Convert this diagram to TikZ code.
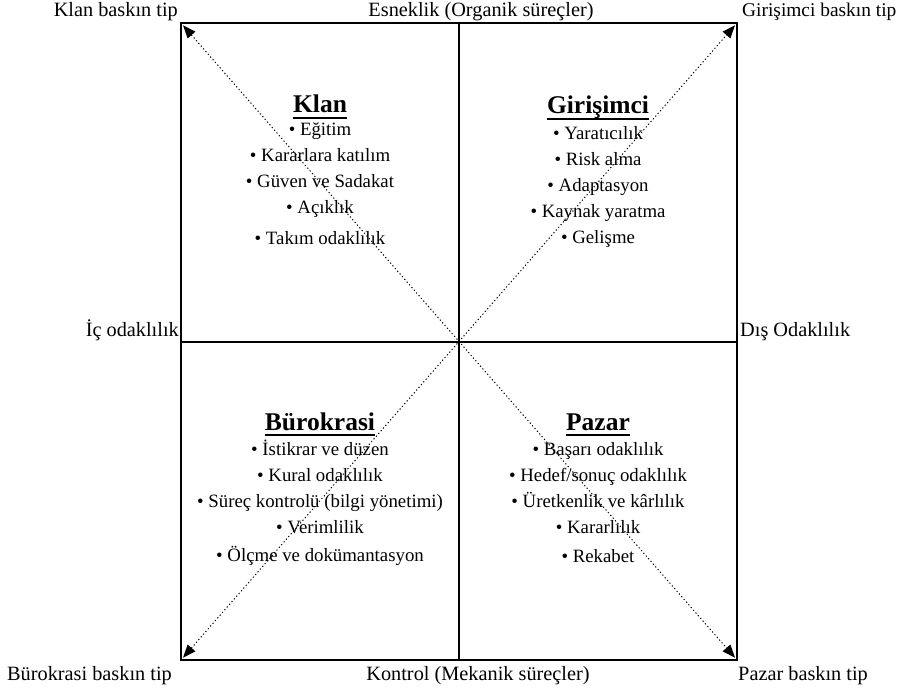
\documentclass[tikz,border=0pt]{standalone}
\usepackage{fontspec}
\setmainfont{Liberation Serif}
\usetikzlibrary{positioning, arrows.meta}

\begin{document}
\begin{tikzpicture}[x=1pt, y=1pt, node distance=2pt,
  frame/.style={line width=2.5pt},
  diag/.style={line width=1pt, dash pattern=on 1.2pt off 2.4pt,
    {Triangle[length=13pt,width=10pt]}-{Triangle[length=13pt,width=10pt]},
    shorten <=3pt, shorten >=3pt},
  lbl/.style={font=\fontsize{20.3}{23}\selectfont, inner sep=1pt},
  head/.style={font=\fontsize{25.5}{30}\selectfont\bfseries, inner sep=0pt, text depth=5pt},
  items/.style={font=\fontsize{18.8}{26}\selectfont, align=center, inner sep=0pt}]
  \useasboundingbox (0,0) rectangle (901,691);
  % frame corners and middles
  \coordinate (nw) at (181,668);
  \coordinate (ne) at (737,668);
  \coordinate (sw) at (181,31);
  \coordinate (se) at (737,31);
  \coordinate (n) at (459,668);
  \coordinate (s) at (459,31);
  \coordinate (w) at (181,349);
  \coordinate (e) at (737,349);

  \draw[frame] (nw) rectangle (se);
  \draw[frame] (n) -- (s);
  \draw[frame] (w) -- (e);
  \draw[diag] (nw) -- (se);
  \draw[diag] (sw) -- (ne);

  % axis labels
  \node[lbl, anchor=south] (flex) at ([xshift=22pt,yshift=1pt]n) {Esneklik (Organik süreçler)};
  \node[lbl, anchor=north] (ctrl) at ([xshift=19pt,yshift=-5pt]s) {Kontrol (Mekanik süreçler)};
  \node[lbl, anchor=south east] (inner) at ([xshift=-1pt]w) {İç odaklılık};
  \node[lbl, anchor=south west] (outer) at ([xshift=2pt]e) {Dış Odaklılık};

  % corner labels
  \node[lbl, anchor=south east] (klantip) at ([xshift=-2pt,yshift=1pt]nw) {Klan baskın tip};
  \node[lbl, anchor=south west, font=\fontsize{19.4}{23}\selectfont] (girtip) at ([xshift=4pt,yshift=1pt]ne) {Girişimci baskın tip};
  \node[lbl, anchor=north east] (burtip) at ([xshift=-8pt,yshift=-5pt]sw) {Bürokrasi baskın tip};
  \node[lbl, anchor=north west] (paztip) at ([xshift=0pt,yshift=-5pt]se) {Pazar baskın tip};

  % quadrants
  \node[head, anchor=base] (klan) at (320,578) {Klan};
  \draw[line width=2.2pt] (klan.south west) -- (klan.south east);
  \node[items, below=1pt of klan] (klanlist) {%
    \rule{0pt}{16pt}• Eğitim\\ • Kararlara katılım\\ • Güven ve Sadakat\\ • Açıklık\\[5pt] • Takım odaklılık};

  \node[head, anchor=base] (gir) at (598,577) {Girişimci};
  \draw[line width=2.2pt] (gir.south west) -- (gir.south east);
  \node[items, below=4pt of gir] (girlist) {%
    \rule{0pt}{16pt}• Yaratıcılık\\ • Risk alma\\ • Adaptasyon\\ • Kaynak yaratma\\ • Gelişme};

  \node[head, anchor=base] (bur) at (320,261) {Bürokrasi};
  \draw[line width=2.2pt] (bur.south west) -- (bur.south east);
  \node[items, below=3pt of bur] (burlist) {%
    \rule{0pt}{17pt}• İstikrar ve düzen\\ • Kural odaklılık\\ • Süreç kontrolü (bilgi yönetimi)\\ • Verimlilik\\[2pt] • Ölçme ve dokümantasyon};

  \node[head, anchor=base] (paz) at (598,261) {Pazar};
  \draw[line width=2.2pt] (paz.south west) -- (paz.south east);
  \node[items, below=3pt of paz] (pazlist) {%
    \rule{0pt}{17pt}• Başarı odaklılık\\ • Hedef/sonuç odaklılık\\ • Üretkenlik ve kârlılık\\ • Kararlılık\\[3pt] • Rekabet};
\end{tikzpicture}
\end{document}
